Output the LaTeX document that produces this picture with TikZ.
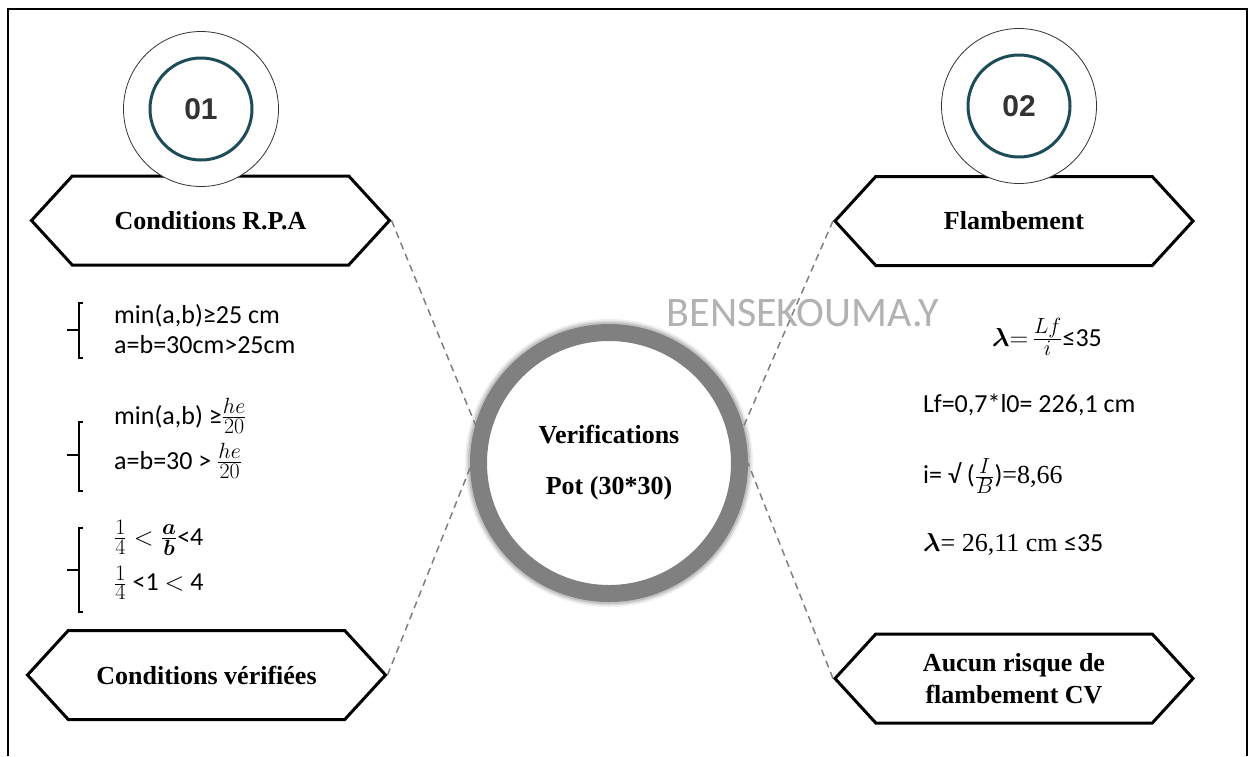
\RequirePackage{fix-cm}
\documentclass[tikz,border=0pt]{standalone}
\usepackage{amsmath,amssymb}
\usepackage{fontspec}
\setmainfont{Liberation Serif}
\newfontfamily\calib{Carlito}
\newfontfamily\numfont{Liberation Sans}
\usepackage{tikz}
\usetikzlibrary{positioning,shapes.symbols}
\DeclareMathSizes{26}{26}{22}{17}

\definecolor{tealring}{HTML}{1E4B58}
\definecolor{ringgray}{HTML}{808080}
\definecolor{numgray}{HTML}{333333}
\definecolor{dashgray}{HTML}{7F7F7F}

\begin{document}
\begin{tikzpicture}[
    x=1pt, y=-1pt,
    hexbox/.style={draw, line width=3pt, shape=signal, signal to=west and east,
                   signal pointer angle=95, minimum width=358, minimum height=89,
                   inner sep=0pt, font=\bfseries\fontsize{26}{32}\selectfont, align=center},
    numring/.style={circle, draw=black!80, line width=0.8pt, fill=white, minimum size=155},
    numcore/.style={circle, draw=tealring, line width=3pt, minimum size=102,
                    font=\numfont\bfseries\fontsize{30}{34}\selectfont, text=numgray},
    potring/.style={circle, draw=ringgray, line width=17pt, fill=white, minimum size=261,
                    font=\bfseries\fontsize{26}{51}\selectfont, align=center},
    cond/.style={font=\calib\fontsize{26}{31}\selectfont, anchor=west, inner sep=0pt},
    calc/.style={font=\calib\fontsize{26}{31}\selectfont, inner sep=0pt},
    brk/.style={line width=1.5pt},
    link/.style={dash pattern=on 7pt off 5pt, draw=dashgray, line width=1.5pt}
]
    \useasboundingbox (0,0) rectangle (1250,756);
    \draw[line width=2pt] (8,756) -- (8,9) -- (1247,9) -- (1247,756);

    % hexagons
    \node[hexbox] (rpa) at (210.5,220.5) {Conditions R.P.A};
    \node[hexbox] (flam) at (1014,221) {Flambement};
    \node[hexbox] (verif) at (206.5,675) {Conditions vérifiées};
    \node[hexbox] (risk) at (1014,678.5) {Aucun risque de\\flambement CV};

    % numbered circles
    \node[numring] (ring1) at (201,109) {};
    \node[numcore] (num1) at (ring1) {01};
    \node[numring] (ring2) at (1019,106) {};
    \node[numcore] (num2) at (ring2) {02};

    % watermark
    \node[font=\calib\fontsize{42}{50}\selectfont, text=black!30] (mark) at (803,313) {BENSEKOUMA.Y};

    % central circle with soft glow
    \coordinate (potc) at (609,463);
    \foreach \r/\o in {144/0.06, 142.5/0.08, 141/0.12}
        \fill[black, opacity=\o] (potc) circle (\r);
    \node[potring] (pot) at (potc) {Verifications\\Pot (30*30)};

    % left conditions
    \node[cond] (lim1) at (114,316) {min(a,b)≥25 cm};
    \node[cond] (lim2) at (114,345) {a=b=30cm>25cm};
    \node[cond] (lim3) at (114,416) {min(a,b) ≥$\frac{he}{20}$};
    \node[cond] (lim4) at (114,461) {a=b=30 > $\frac{he}{20}$};
    \node[cond] (lim5) at (114,538) {$\frac{1}{4} < \frac{\boldsymbol{a}}{\boldsymbol{b}}$<4};
    \node[cond] (lim6) at (114,583) {$\frac{1}{4}$ <1 $<$ 4};
    \foreach \t/\b/\m in {303/358/330, 422/491/455, 528/612/570}
        \draw[brk] (83,\t) -- (79,\t) -- (79,\b) -- (83,\b) (67,\m) -- (79,\m);

    % right calculations
    \node[calc] (slim) at (1047,337) {$\boldsymbol{\lambda}{=}\,\frac{Lf}{i}$≤35};
    \node[calc, anchor=west] (lf) at (923,405) {Lf=0,7*l0= 226,1 cm};
    \node[calc, anchor=west] (rad) at (923,476) {i= √ ($\frac{I}{B}$){\rmfamily =8,66}};
    \node[calc, anchor=west] (lam) at (923,544) {$\boldsymbol{\lambda}$\rmfamily = 26,11 cm \calib≤35};

    % dashed links
    \draw[link] (rpa.east) -- (pot.164);
    \draw[link] (verif.east) -- (pot.182);
    \draw[link] (flam.west) -- (pot.15);
    \draw[link] (risk.west) -- (pot.0);
\end{tikzpicture}
\end{document}
